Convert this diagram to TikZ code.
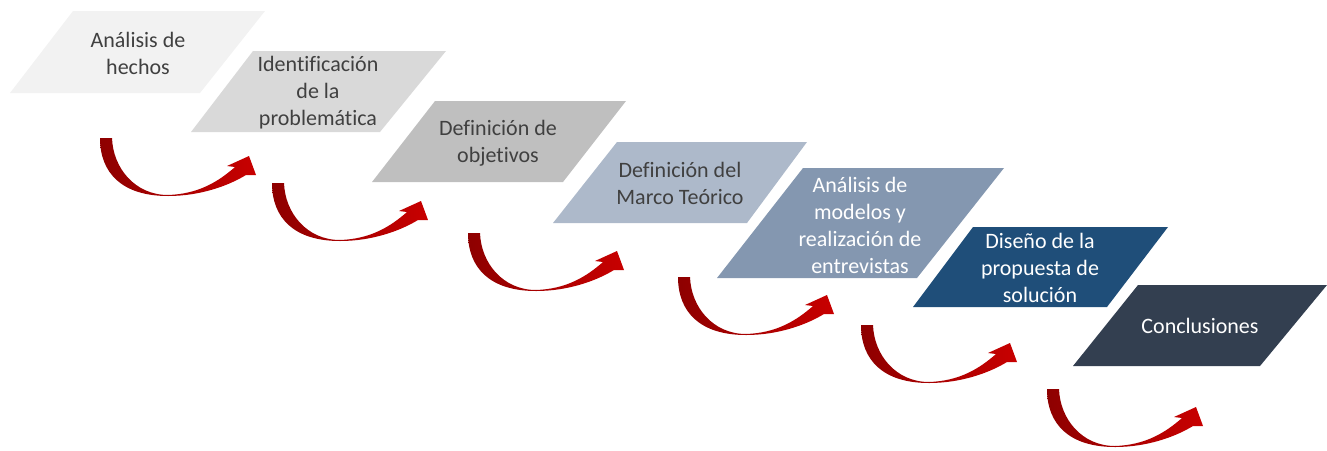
\documentclass[tikz,border=0pt]{standalone}
\usepackage{fontspec}
\setmainfont{Carlito}[Ligatures={NoCommon}]
\definecolor{c1}{HTML}{F2F2F2}
\definecolor{c2}{HTML}{D9D9D9}
\definecolor{c3}{HTML}{BFBFBF}
\definecolor{c4}{HTML}{ADB9CA}
\definecolor{c5}{HTML}{8497B0}
\definecolor{c6}{HTML}{1F4E79}
\definecolor{c7}{HTML}{333F50}
\definecolor{txtdark}{HTML}{404040}
\definecolor{arrdark}{HTML}{8E0000}
\definecolor{arrred}{HTML}{C80000}
\tikzset{
  x=1pt, y=-1pt,
  lbl/.style={align=center, font=\fontsize{22}{27}\selectfont, inner sep=0pt},
  darklbl/.style={lbl, text=txtdark},
  lightlbl/.style={lbl, text=white},
  pics/curvarrow/.style={code={
    \shade[left color=arrdark, right color=arrred]
      (0,0) .. controls (0,35) and (22,58) .. (68,58)
      .. controls (100,58) and (128,48) .. (146,37)
      -- (156,37) -- (149,18) -- (127,28) -- (135,29)
      .. controls (118,44) and (98,56) .. (68,57)
      .. controls (35,57) and (13,30) .. (12,0) -- cycle;
  }}
}
\begin{document}
\begin{tikzpicture}
\useasboundingbox (0,0) rectangle (1327,450);
% parallelograms
\fill[c1] (73,11) -- (265,11) -- (200,93) -- (10,93) -- cycle;
\fill[c2] (253,51) -- (446,51) -- (380,132) -- (191,132) -- cycle;
\fill[c3] (435,101) -- (626,101) -- (563,182) -- (372,182) -- cycle;
\fill[c4] (617,142) -- (807,142) -- (747,223) -- (553,223) -- cycle;
\fill[c5] (803,168) -- (1004,168) -- (917,278) -- (717,278) -- cycle;
\fill[c6] (973,227) -- (1168,227) -- (1107,307) -- (913,307) -- cycle;
\fill[c7] (1138,285) -- (1327,285) -- (1260,366) -- (1073,366) -- cycle;
% labels
\node[darklbl] (t1) at (138,53) {Análisis de\\hechos};
\node[darklbl] (t2) at (318,93) {Identificación\\de la\\problemática};
\node[darklbl] (t3) at (498,143) {Definición de\\objetivos};
\node[darklbl] (t4) at (680,183) {Definición del\\Marco Teórico};
\node[lightlbl] (t5) at (860,225) {Análisis de\\modelos y\\realización de\\entrevistas};
\node[lightlbl] (t6) at (1040,268) {Diseño de la\\propuesta de\\solución};
\node[lightlbl] (t7) at (1200,326) {Conclusiones};
% curved arrows
\pic at (100,138) {curvarrow};
\pic at (272,183) {curvarrow};
\pic at (468,233) {curvarrow};
\pic at (678,277) {curvarrow};
\pic at (861,325) {curvarrow};
\pic at (1047,389) {curvarrow};
\end{tikzpicture}
\end{document}
